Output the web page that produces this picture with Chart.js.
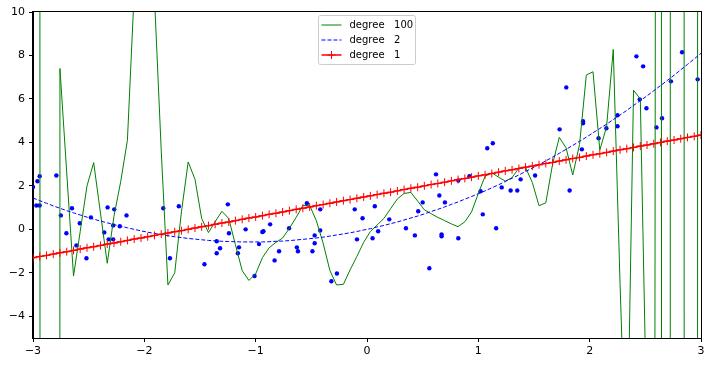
<!DOCTYPE html>
<html>
<head>
<meta charset="utf-8">
<script src="https://cdn.jsdelivr.net/npm/chart.js@4"></script>
<style>
  html, body { margin: 0; padding: 0; background: #fff; }
</style>
</head>
<body>
<canvas id="chart" width="712" height="365"></canvas>
<script>
// x positions where the fitted curves were evaluated
const xGrid = [
  -3.000, -2.939, -2.879, -2.818, -2.758, -2.697, -2.636, -2.576, -2.515, -2.455,
  -2.394, -2.333, -2.273, -2.212, -2.152, -2.091, -2.030, -1.970, -1.909, -1.848,
  -1.788, -1.727, -1.667, -1.606, -1.545, -1.485, -1.424, -1.364, -1.303, -1.242,
  -1.182, -1.121, -1.061, -1.000, -0.939, -0.879, -0.818, -0.758, -0.697, -0.636,
  -0.576, -0.515, -0.455, -0.394, -0.333, -0.273, -0.212, -0.152, -0.091, -0.030,
  0.030, 0.091, 0.152, 0.212, 0.273, 0.333, 0.394, 0.455, 0.515, 0.576,
  0.636, 0.697, 0.758, 0.818, 0.879, 0.939, 1.000, 1.061, 1.121, 1.182,
  1.242, 1.303, 1.364, 1.424, 1.485, 1.545, 1.606, 1.667, 1.727, 1.788,
  1.848, 1.909, 1.970, 2.030, 2.091, 2.152, 2.212, 2.273, 2.333, 2.394,
  2.455, 2.515, 2.576, 2.636, 2.697, 2.758, 2.818, 2.879, 2.939, 3.000
];

const deg100 = [
  30, 40, -8000, -3000, 7.4, 2.6, -2.15, -0.1, 2.0, 3.07,
  0.75, -1.56, 0.6, 2.2, 4.1, 10.9, 22, 22, 10.7, 3.6,
  -2.56, -2.0, 0.8, 3.1, 2.3, 0.5, -0.15, 0.35, 0.83, 0.5,
  -0.7, -1.9, -2.35, -2.05, -1.3, -0.85, -0.6, -0.4, 0.05, 0.55,
  1.1, 1.1, 0.4, -0.64, -1.9, -2.56, -2.53, -1.87, -1.25, -0.6,
  -0.1, 0.2, 0.5, 0.95, 1.4, 1.65, 1.7, 1.3, 0.9, 0.72,
  0.55, 0.4, 0.25, 0.12, 0.35, 0.8, 1.65, 2.45, 2.6, 2.4,
  2.22, 2.38, 2.82, 2.85, 2.15, 1.09, 1.22, 3.0, 4.23, 3.75,
  2.5, 3.9, 7.1, 7.25, 3.65, 4.72, 8.28, -2.5, -12, 6.4,
  6.0, -9.6, -50, 213, -1200, 8800, 2000, -48000, -50000, 366000
];

const deg2 = [
  1.44, 1.32, 1.20, 1.08, 0.97, 0.86, 0.76, 0.66, 0.56, 0.47,
  0.38, 0.30, 0.22, 0.14, 0.07, 0.00, -0.07, -0.13, -0.19, -0.24,
  -0.29, -0.34, -0.38, -0.42, -0.45, -0.48, -0.51, -0.53, -0.55, -0.56,
  -0.57, -0.58, -0.58, -0.58, -0.58, -0.57, -0.55, -0.54, -0.52, -0.49,
  -0.46, -0.43, -0.40, -0.36, -0.31, -0.26, -0.21, -0.16, -0.10, -0.03,
  0.03, 0.11, 0.18, 0.26, 0.34, 0.43, 0.52, 0.61, 0.71, 0.82,
  0.92, 1.03, 1.15, 1.26, 1.39, 1.51, 1.64, 1.77, 1.91, 2.05,
  2.20, 2.35, 2.50, 2.66, 2.82, 2.98, 3.15, 3.32, 3.50, 3.68,
  3.86, 4.05, 4.24, 4.44, 4.64, 4.84, 5.05, 5.26, 5.47, 5.70,
  5.92, 6.14, 6.38, 6.61, 6.85, 7.09, 7.34, 7.59, 7.84, 8.10
];

const deg1 = [
  -1.31, -1.25, -1.20, -1.14, -1.08, -1.03, -0.97, -0.91, -0.85, -0.80,
  -0.74, -0.68, -0.63, -0.57, -0.51, -0.45, -0.40, -0.34, -0.28, -0.22,
  -0.17, -0.11, -0.06, 0.00, 0.06, 0.12, 0.17, 0.23, 0.29, 0.34,
  0.40, 0.46, 0.52, 0.57, 0.63, 0.69, 0.74, 0.80, 0.86, 0.92,
  0.97, 1.03, 1.09, 1.14, 1.20, 1.26, 1.32, 1.37, 1.43, 1.49,
  1.54, 1.60, 1.66, 1.71, 1.77, 1.83, 1.89, 1.94, 2.00, 2.06,
  2.11, 2.17, 2.23, 2.29, 2.34, 2.40, 2.46, 2.51, 2.57, 2.63,
  2.69, 2.74, 2.80, 2.86, 2.91, 2.97, 3.03, 3.08, 3.14, 3.20,
  3.26, 3.31, 3.37, 3.43, 3.48, 3.54, 3.60, 3.66, 3.71, 3.77,
  3.83, 3.88, 3.94, 4.00, 4.06, 4.11, 4.17, 4.23, 4.28, 4.34
];

// the noisy samples (blue dots)
const sampleX = [
  -3.00, -2.96, -2.94, -2.97, -2.94, -2.79, -2.75, -2.65, -2.70, -2.58,
  -2.61, -2.52, -2.48, -2.33, -2.27, -2.36, -2.28, -2.22, -2.32, -2.28,
  -2.16, -1.83, -1.69, -1.77, -1.46, -1.25, -1.24, -1.35, -1.32, -1.35,
  -1.09, -1.15, -1.16, -1.01, -0.87, -0.93, -0.94, -0.97, -0.79, -0.83,
  -0.70, -0.63, -0.62, -0.54, -0.42, -0.47, -0.47, -0.42, -0.49, -0.27,
  -0.32, -0.11, -0.04, -0.09, 0.07, 0.05, 0.10, 0.20, 0.35, 0.43,
  0.46, 0.56, 0.50, 0.62, 0.65, 0.70, 0.67, 0.67, 0.82, 0.82,
  0.92, 1.02, 1.04, 1.08, 1.13, 1.16, 1.21, 1.29, 1.35, 1.38,
  1.51, 1.73, 1.79, 1.82, 1.93, 1.94, 1.94, 2.08, 2.15, 2.25,
  2.25, 2.42, 2.48, 2.45, 2.51, 2.60, 2.65, 2.73, 2.83, 2.97
];
const sampleY = [
  1.95, 2.21, 2.44, 1.10, 1.10, 2.48, 0.64, 0.97, -0.18, 0.28,
  -0.74, -1.33, 0.55, 1.01, 0.92, -0.14, 0.18, 0.14, -0.46, -0.46,
  0.64, 0.97, 1.06, -1.33, -1.61, 1.15, -0.18, -0.55, -0.87, -1.10,
  0.00, -0.83, -1.10, -2.15, 0.23, -0.09, -0.12, -0.68, -1.01, -1.43,
  0.05, -0.83, -1.01, 1.20, 0.92, -0.28, -0.64, -0.05, -1.01, -2.03,
  -2.39, 0.92, 0.51, -0.46, 1.06, -0.41, -0.09, 0.46, 0.05, -0.28,
  0.83, -1.79, 1.24, 2.53, 1.56, 1.24, -0.23, -0.32, -0.41, 2.25,
  2.44, 1.75, 0.69, 3.73, 3.96, 0.05, 1.93, 1.79, 1.79, 2.30,
  2.48, 4.60, 6.53, 1.79, 3.68, 4.97, 4.88, 4.19, 4.65, 5.25,
  4.74, 7.96, 7.50, 5.98, 5.57, 4.69, 5.11, 6.81, 8.15, 6.90
];

const xTicks = [-3, -2, -1, 0, 1, 2, 3];
const yTicks = [-4, -2, 0, 2, 4, 6, 8, 10];

const toPoints = (ys) => xGrid.map((x, i) => ({ x, y: ys[i] }));

// box around the plot, like matplotlib spines
const framePlugin = {
  id: 'frame',
  afterDatasetsDraw(chart) {
    const { ctx, chartArea: a } = chart;
    ctx.save();
    ctx.strokeStyle = '#000';
    ctx.lineWidth = 1;
    ctx.strokeRect(Math.round(a.left) - 0.5, Math.round(a.top) - 0.5,
      Math.round(a.right - a.left) + 1, Math.round(a.bottom - a.top) + 1);
    ctx.restore();
  }
};

// legend drawn by hand so the '+' marker and dash show in the sample
const legendPlugin = {
  id: 'fitLegend',
  afterDraw(chart) {
    const { ctx, chartArea: a } = chart;
    const fits = chart.data.datasets.filter(d => d.inLegend);
    const left = a.left + 285.5;
    const top = a.top + 3.5;
    const w = 97;
    const rowH = 15;
    const h = fits.length * rowH + 4;
    ctx.save();
    ctx.fillStyle = 'rgba(255,255,255,0.8)';
    ctx.strokeStyle = '#cccccc';
    ctx.lineWidth = 1;
    ctx.beginPath();
    ctx.roundRect(left, top, w, h, 2);
    ctx.fill();
    ctx.stroke();

    ctx.font = '10px "DejaVu Sans"';
    ctx.textBaseline = 'middle';
    fits.forEach((d, i) => {
      const y = top + 9.5 + i * rowH;
      ctx.strokeStyle = d.borderColor;
      ctx.lineWidth = d.borderWidth;
      ctx.setLineDash(d.borderDash || []);
      ctx.beginPath();
      ctx.moveTo(left + 3, y);
      ctx.lineTo(left + 23, y);
      ctx.stroke();
      ctx.setLineDash([]);
      if (d.pointStyle === 'cross') {
        ctx.lineWidth = 1;
        ctx.beginPath();
        ctx.moveTo(left + 13, y - 4);
        ctx.lineTo(left + 13, y + 4);
        ctx.moveTo(left + 9, y);
        ctx.lineTo(left + 17, y);
        ctx.stroke();
      }
      ctx.fillStyle = '#000';
      ctx.fillText(d.label, left + 31, y + 0.5);
    });
    ctx.restore();
  }
};

const tickFont = { family: '"DejaVu Sans"', size: 11 };

new Chart(document.getElementById('chart'), {
  type: 'scatter',
  data: {
    datasets: [
      {
        label: 'degree   100',
        inLegend: true,
        data: toPoints(deg100),
        showLine: true,
        borderColor: '#008000',
        borderWidth: 1,
        pointRadius: 0,
        clip: 0,
        order: 3
      },
      {
        label: 'degree   2',
        inLegend: true,
        data: toPoints(deg2),
        showLine: true,
        borderColor: '#0000ff',
        borderWidth: 1,
        borderDash: [4, 2],
        pointRadius: 0,
        clip: 0,
        order: 2
      },
      {
        label: 'degree   1',
        inLegend: true,
        data: toPoints(deg1),
        showLine: true,
        borderColor: '#ff0000',
        backgroundColor: '#ff0000',
        borderWidth: 1.5,
        pointStyle: 'cross',
        pointRadius: 4,
        pointBorderWidth: 1,
        clip: 0,
        order: 1
      },
      {
        label: 'samples',
        data: sampleX.map((x, i) => ({ x, y: sampleY[i] })),
        pointRadius: 2.2,
        pointBorderWidth: 0,
        backgroundColor: '#0000ff',
        borderColor: '#0000ff',
        clip: 0,
        order: 4
      }
    ]
  },
  options: {
    responsive: false,
    animation: false,
    devicePixelRatio: 1,
    layout: { padding: { top: 12, right: 11, left: 0, bottom: 0 } },
    plugins: {
      legend: { display: false },
      tooltip: { enabled: false }
    },
    scales: {
      x: {
        type: 'linear',
        min: -3,
        max: 3,
        afterBuildTicks: (scale) => { scale.ticks = xTicks.map(v => ({ value: v })); },
        afterFit: (scale) => { scale.height = 27; },
        ticks: {
          color: '#000',
          font: tickFont,
          padding: 3,
          maxRotation: 0,
          callback: (v) => String(v).replace('-', '\u2212')
        },
        grid: { drawOnChartArea: false, drawTicks: true, tickLength: 4, color: '#000' },
        border: { color: '#000', width: 1 }
      },
      y: {
        type: 'linear',
        min: -5,
        max: 10,
        afterBuildTicks: (scale) => { scale.ticks = yTicks.map(v => ({ value: v })); },
        afterFit: (scale) => { scale.width = 33; },
        ticks: {
          color: '#000',
          font: tickFont,
          padding: 4,
          callback: (v) => String(v).replace('-', '\u2212')
        },
        grid: { drawOnChartArea: false, drawTicks: true, tickLength: 4, color: '#000' },
        border: { color: '#000', width: 1 }
      }
    }
  },
  plugins: [framePlugin, legendPlugin]
});
</script>
</body>
</html>
